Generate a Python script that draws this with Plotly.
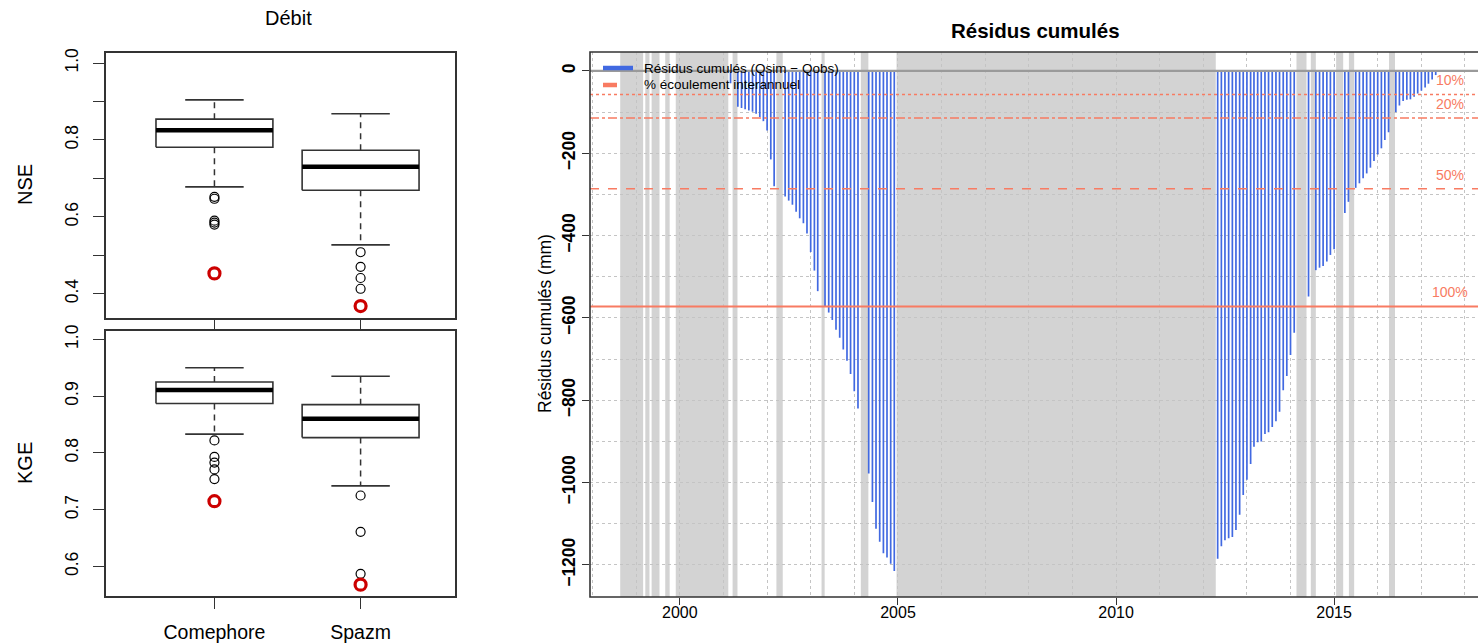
import plotly.graph_objects as go

# ---------------- Boxplots "Débit" : NSE / KGE ----------------
modeles = ["Comephore", "Spazm"]
modele_pos = [1, 2]

nse_moustache_bas = [0.678, 0.527]
nse_q1 = [0.781, 0.669]
nse_mediane = [0.825, 0.730]
nse_q3 = [0.854, 0.773]
nse_moustache_haut = [0.904, 0.868]
nse_atypiques = [[0.652, 0.647, 0.590, 0.585, 0.580], [0.508, 0.470, 0.441, 0.413]]
nse_minimum = [0.453, 0.368]

kge_moustache_bas = [0.833, 0.742]
kge_q1 = [0.887, 0.827]
kge_mediane = [0.911, 0.860]
kge_q3 = [0.925, 0.885]
kge_moustache_haut = [0.950, 0.935]
kge_atypiques = [[0.822, 0.793, 0.783, 0.771, 0.754], [0.725, 0.661, 0.587]]
kge_minimum = [0.715, 0.568]

# ---------------- Résidus cumulés (mm), pas mensuel ----------------
mois_residus = [
    "2001-03",
    "2001-05", "2001-06", "2001-07", "2001-08", "2001-09", "2001-10", "2001-11", "2001-12",
    "2002-01", "2002-02", "2002-03",
    "2002-06", "2002-07", "2002-08", "2002-09", "2002-10", "2002-11", "2002-12",
    "2003-01", "2003-02", "2003-03",
    "2003-05", "2003-06", "2003-07", "2003-08", "2003-09", "2003-10", "2003-11", "2003-12",
    "2004-01", "2004-02",
    "2004-05", "2004-06", "2004-07", "2004-08", "2004-09", "2004-10", "2004-11", "2004-12",
    "2012-05", "2012-06", "2012-07", "2012-08", "2012-09", "2012-10", "2012-11", "2012-12",
    "2013-01", "2013-02", "2013-03", "2013-04", "2013-05", "2013-06", "2013-07", "2013-08",
    "2013-09", "2013-10", "2013-11", "2013-12",
    "2014-01", "2014-02",
    "2014-06",
    "2014-08", "2014-09", "2014-10", "2014-11", "2014-12", "2015-01",
    "2015-04", "2015-05",
    "2015-07", "2015-08", "2015-09", "2015-10", "2015-11", "2015-12",
    "2016-01", "2016-02", "2016-03", "2016-04",
    "2016-06", "2016-07", "2016-08", "2016-09", "2016-10", "2016-11", "2016-12",
    "2017-01", "2017-02", "2017-03", "2017-04", "2017-05",
]
residus = [
    -30,
    -87, -90, -93, -96, -99, -104, -112, -122,
    -145, -215, -280,
    -305, -315, -325, -342, -358, -370, -395,
    -440, -485, -535,
    -573, -587, -605, -629, -648, -677, -704, -736,
    -778, -820,
    -978, -1047, -1112, -1144, -1172, -1182, -1197, -1215,
    -1185, -1155, -1140, -1135, -1132, -1115, -1078, -1030,
    -993, -955, -913, -902, -900, -882, -878, -865,
    -851, -828, -776, -741,
    -690, -636,
    -548,
    -484, -478, -474, -463, -447, -433,
    -345, -318,
    -284, -273, -261, -249, -235, -219,
    -203, -188, -168, -149,
    -100, -84, -73, -70, -69, -63, -55,
    -48, -40, -31, -21, -10,
]

# Périodes lacunaires (fond gris)
lacunes_debut = ["1998-08-20", "1999-03-18", "1999-05-10", "1999-09-01", "1999-11-28",
                 "2001-03-18", "2002-03-20", "2003-04-02", "2004-02-25", "2004-12-20",
                 "2014-02-20", "2014-06-20", "2015-01-18", "2015-05-05", "2016-04-05"]
lacunes_fin = ["1999-02-28", "1999-04-22", "1999-07-15", "1999-10-08", "2001-02-10",
               "2001-04-28", "2002-05-12", "2003-04-28", "2004-04-28", "2012-04-15",
               "2014-05-15", "2014-08-01", "2015-03-18", "2015-06-18", "2016-05-25"]

# Écoulement interannuel (mm) et seuils
ecoulement_interannuel = 572
pourcentages = [10, 20, 50, 100]
styles_seuils = ["dot", "dashdot", "dash", "solid"]

# ---------------- Figure ----------------
W, H = 1478, 643
FONT = "Liberation Sans, Arial, sans-serif"
AXE = "#333333"
SAUMON = "#F87B62"
BLEU = "#4169E1"


def px_x(p):
    return p / W


def px_y(p):
    return 1 - p / H


fig = go.Figure()


def boite(xa, ya, bas, q1, med, q3, haut, atyp, mini):
    for i, c in enumerate(modele_pos):
        hw, cw = 0.4, 0.2
        fig.add_trace(go.Scatter(
            x=[c - hw, c + hw, c + hw, c - hw, c - hw],
            y=[q1[i], q1[i], q3[i], q3[i], q1[i]],
            mode="lines", line=dict(color=AXE, width=1.6),
            xaxis=xa, yaxis=ya, hoverinfo="skip"))
        fig.add_trace(go.Scatter(
            x=[c - hw, c + hw], y=[med[i], med[i]], mode="lines",
            line=dict(color="black", width=4.5), xaxis=xa, yaxis=ya))
        fig.add_trace(go.Scatter(
            x=[c, c, None, c, c], y=[q3[i], haut[i], None, q1[i], bas[i]],
            mode="lines", line=dict(color=AXE, width=1.5, dash="6px,5px"),
            xaxis=xa, yaxis=ya))
        fig.add_trace(go.Scatter(
            x=[c - cw, c + cw, None, c - cw, c + cw],
            y=[haut[i], haut[i], None, bas[i], bas[i]],
            mode="lines", line=dict(color=AXE, width=1.6), xaxis=xa, yaxis=ya))
        fig.add_trace(go.Scatter(
            x=[c] * len(atyp[i]), y=atyp[i], mode="markers",
            marker=dict(symbol="circle-open", size=9, color="black",
                        line=dict(width=1.2)), xaxis=xa, yaxis=ya))
        fig.add_trace(go.Scatter(
            x=[c], y=[mini[i]], mode="markers",
            marker=dict(symbol="circle-open", size=11, color="#CC0000",
                        line=dict(width=3.2)), xaxis=xa, yaxis=ya))


boite("x", "y", nse_moustache_bas, nse_q1, nse_mediane, nse_q3, nse_moustache_haut,
      nse_atypiques, nse_minimum)
boite("x2", "y2", kge_moustache_bas, kge_q1, kge_mediane, kge_q3, kge_moustache_haut,
      kge_atypiques, kge_minimum)

# Barres verticales des résidus cumulés
bx, by = [], []
for m, v in zip(mois_residus, residus):
    d = m + "-01"
    bx += [d, d, None]
    by += [0, v, None]
fig.add_trace(go.Scatter(x=bx, y=by, mode="lines", line=dict(color=BLEU, width=1.7),
                         xaxis="x3", yaxis="y3", hoverinfo="skip"))

shapes = []
for d0, d1 in zip(lacunes_debut, lacunes_fin):
    shapes.append(dict(type="rect", xref="x3", yref="y3 domain", x0=d0, x1=d1, y0=0, y1=1,
                       fillcolor="#D3D3D3", line=dict(width=0), layer="below"))
shapes.append(dict(type="line", xref="x3 domain", yref="y3", x0=0, x1=1, y0=0, y1=0,
                   line=dict(color="#9A9A9A", width=2.2), layer="above"))
annotations = []
for p, st in zip(pourcentages, styles_seuils):
    yv = -ecoulement_interannuel * p / 100
    shapes.append(dict(type="line", xref="x3 domain", yref="y3", x0=0, x1=1, y0=yv, y1=yv,
                       line=dict(color=SAUMON, width=2 if st == "solid" else 1.5, dash=st),
                       layer="above"))
    annotations.append(dict(x="2017-08-25", y=yv, xref="x3", yref="y3", text=f"{p}%",
                            showarrow=False, xanchor="center", yanchor="bottom", yshift=4,
                            font=dict(family=FONT, size=14, color=SAUMON)))
# Cadre du graphique de droite
shapes.append(dict(type="rect", xref="x3 domain", yref="y3 domain", x0=0, x1=1.02, y0=0, y1=1,
                   line=dict(color=AXE, width=1.6), layer="above"))

# Légende
shapes.append(dict(type="line", xref="paper", yref="paper", x0=px_x(603), x1=px_x(633),
                   y0=px_y(68), y1=px_y(68), line=dict(color=BLEU, width=4.5)))
shapes.append(dict(type="line", xref="paper", yref="paper", x0=px_x(603), x1=px_x(617),
                   y0=px_y(85), y1=px_y(85), line=dict(color=SAUMON, width=4.5)))


def texte(x, y, t, size, angle=0, xanchor="center", bold=False):
    return dict(x=px_x(x), y=px_y(y), xref="paper", yref="paper", xanchor=xanchor,
                yanchor="middle", text=f"<b>{t}</b>" if bold else t, textangle=angle,
                showarrow=False, font=dict(family=FONT, size=size, color="black"))


annotations += [
    texte(642, 68, "Résidus cumulés (Qsim − Qobs)", 13.5, xanchor="left"),
    texte(642, 85, "% écoulement interannuel", 13.5, xanchor="left"),
    texte(288, 18, "Débit", 20),
    texte(1035, 30, "Résidus cumulés", 20.5, bold=True),
    texte(25, 185, "NSE", 20, angle=-90),
    texte(25, 463, "KGE", 20, angle=-90),
    texte(545, 324, "Résidus cumulés (mm)", 17.5, angle=-90),
]

cadre = dict(showline=True, mirror=True, linecolor=AXE, linewidth=1.6, showgrid=False,
             zeroline=False, ticks="outside", tickcolor=AXE, tickwidth=1.4,
             automargin=False)
dom_gauche = [px_x(106), px_x(455)]
tick_font = dict(family=FONT, size=17.5, color="black")

fig.update_layout(
    width=W, height=H, margin=dict(l=0, r=0, t=0, b=0, pad=0, autoexpand=False),
    paper_bgcolor="white", plot_bgcolor="white", showlegend=False,
    font=dict(family=FONT, color="black"),
    shapes=shapes, annotations=annotations,
    xaxis=dict(domain=dom_gauche, anchor="y", range=[0.258, 2.646], tickvals=modele_pos,
               showticklabels=False, ticklen=11, **cadre),
    yaxis=dict(domain=[px_y(318), px_y(53)], anchor="x", range=[0.337, 1.026],
               tickvals=[0.4, 0.5, 0.6, 0.7, 0.8, 0.9, 1.0],
               ticktext=["0.4", "", "0.6", "", "0.8", "", "1.0"],
               tickangle=-90, ticklen=11, ticklabelstandoff=8, tickfont=tick_font, **cadre),
    xaxis2=dict(domain=dom_gauche, anchor="y2", range=[0.258, 2.646], tickvals=modele_pos,
                ticktext=modeles, ticklen=11, ticklabelstandoff=7,
                tickfont=dict(family=FONT, size=19.5, color="black"), **cadre),
    yaxis2=dict(domain=[px_y(596), px_y(331)], anchor="x2", range=[0.548, 1.0147],
                tickvals=[0.6, 0.7, 0.8, 0.9, 1.0],
                ticktext=["0.6", "0.7", "0.8", "0.9", "1.0"],
                tickangle=-90, ticklen=11, ticklabelstandoff=8, tickfont=tick_font, **cadre),
    xaxis3=dict(domain=[px_x(590), 1.0], anchor="y3", type="date", automargin=False,
                range=["1997-12-10", "2018-04-20"], tick0="2000-01-01", dtick="M60",
                tickformat="%Y", ticks="outside", ticklen=7, tickcolor=AXE, tickwidth=1.4,
                ticklabelstandoff=-6,
                tickfont=dict(family=FONT, size=16, color="black"),
                showline=False, zeroline=False,
                showgrid=True, gridcolor="#C4C4C4", griddash="dot", gridwidth=1,
                minor=dict(dtick="M12", tick0="2000-01-01", showgrid=True,
                           gridcolor="#C4C4C4", griddash="dot", gridwidth=1, ticks="")),
    yaxis3=dict(domain=[px_y(597), px_y(52)], anchor="x3", range=[-1278, 46],
                automargin=False,
                tick0=0, dtick=200, tickangle=-90, ticks="outside", ticklen=7,
                tickcolor=AXE, tickwidth=1.4,
                tickfont=dict(family=FONT, size=17.5, color="black", weight="bold"),
                showline=False, zeroline=False,
                showgrid=True, gridcolor="#C4C4C4", griddash="dot", gridwidth=1,
                minor=dict(dtick=100, tick0=0, showgrid=True, gridcolor="#C4C4C4",
                           griddash="dot", gridwidth=1, ticks="")),
)

fig.write_html("out.html")
